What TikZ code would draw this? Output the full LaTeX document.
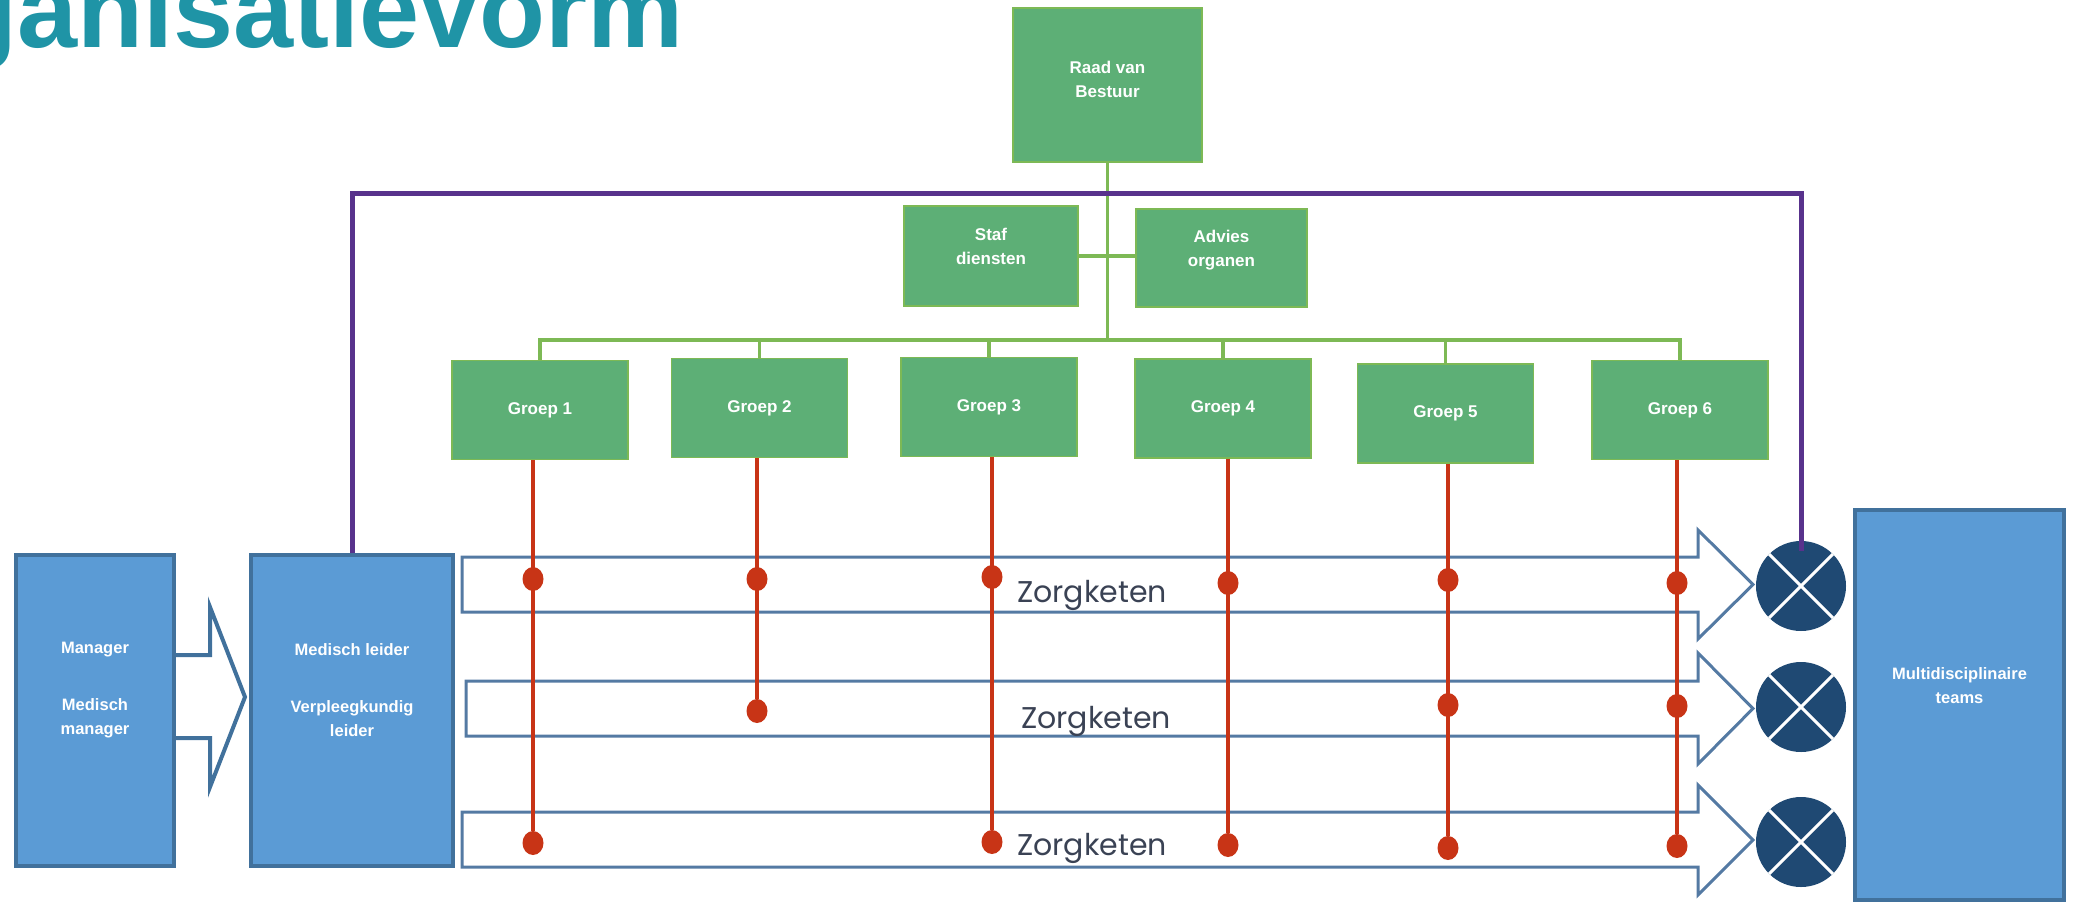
\documentclass[tikz,border=0pt]{standalone}
\usepackage{fontspec}
\setmainfont{Liberation Sans}
\newfontfamily\zorgfont{Poppins}
\usetikzlibrary{shapes.geometric}

\definecolor{titelkl}{RGB}{31,148,166}
\definecolor{groenvul}{RGB}{93,175,118}
\definecolor{groenrand}{RGB}{125,185,85}
\definecolor{blauwvul}{RGB}{91,155,213}
\definecolor{blauwrand}{RGB}{65,113,156}
\definecolor{ketenkl}{RGB}{84,122,163}
\definecolor{roodkl}{RGB}{200,52,22}
\definecolor{navy}{RGB}{31,73,115}
\definecolor{paarskl}{RGB}{88,50,140}
\definecolor{ketentxt}{RGB}{58,66,84}

\begin{document}
\begin{tikzpicture}[x=1pt,y=-1pt,
  groen/.style={draw=groenrand,line width=1.5pt,fill=groenvul,inner sep=0pt},
  groep/.style={groen,minimum width=176pt,minimum height=99pt,text=white,
    font=\bfseries\fontsize{17}{24}\selectfont},
  wittxt/.style={text=white,align=center,font=\bfseries\fontsize{17}{24}\selectfont},
  blauw/.style={draw=blauwrand,line width=4pt,fill=blauwvul,inner sep=0pt},
  lijn/.style={groenrand,line width=3.5pt},
  rood/.style={roodkl,line width=3.5pt},
  stip/.style={ellipse,fill=roodkl,inner sep=0pt,minimum width=21pt,minimum height=24pt},
  keten/.style={draw=ketenkl,line width=3pt},
  ketentekst/.style={text=ketentxt,font=\zorgfont\fontsize{30}{36}\selectfont,inner sep=0pt},
  kruis/.style={circle,fill=navy,minimum size=90pt,inner sep=0pt},
  paars/.style={paarskl,line width=5pt}]
  \useasboundingbox (0,0) rectangle (2075,903);
  \clip (0,0) rectangle (2075,903);

  % titel, links en boven afgesneden
  \node[anchor=base east,inner sep=0pt,text=titelkl,
    font=\bfseries\fontsize{108}{112}\selectfont] (titel) at (684,47) {Organisatievorm};

  % lijnorganisatie
  \node[groen,minimum width=189pt,minimum height=154pt,
    label={[wittxt,yshift=6pt]center:Raad van\\Bestuur}] (raad) at (1107.5,85) {};
  \node[groen,minimum width=174pt,minimum height=100pt,
    label={[wittxt,yshift=10pt]center:Staf\\diensten}] (staf) at (991,256) {};
  \node[groen,minimum width=171pt,minimum height=98pt,
    label={[wittxt,yshift=8pt]center:Advies\\organen}] (advies) at (1221.5,258) {};

  \node[groep] (g1) at (540,410) {Groep 1};
  \node[groep] (g2) at (759.5,408) {Groep 2};
  \node[groep] (g3) at (989,407) {Groep 3};
  \node[groep] (g4) at (1223,408.5) {Groep 4};
  \node[groep] (g5) at (1445.5,413.5) {Groep 5};
  \node[groep] (g6) at (1680,410) {Groep 6};

  \coordinate (bus) at (0,340);
  \coordinate (boven) at (0,193);
  \draw[lijn] (raad.south) -- (raad.south |- bus);
  \draw[lijn] (staf.east) -- (staf.east -| advies.west);
  \draw[lijn] (g1.north) |- (g6.north |- bus) -- (g6.north);
  \draw[lijn] (g2.north) -- (g2.north |- bus);
  \draw[lijn] (g3.north) -- (g3.north |- bus);
  \draw[lijn] (g4.north) -- (g4.north |- bus);
  \draw[lijn] (g5.north) -- (g5.north |- bus);

  % zorgketens
  \draw[keten] (462,557) -- (1698,557) -- (1698,530) -- (1753,584.5) -- (1698,639) -- (1698,612) -- (462,612) -- cycle;
  \draw[keten] (466,681) -- (1698,681) -- (1698,653) -- (1753,708.5) -- (1698,764) -- (1698,736) -- (466,736) -- cycle;
  \draw[keten] (462,812) -- (1698,812) -- (1698,785) -- (1753,840) -- (1698,895) -- (1698,867) -- (462,867) -- cycle;
  \node[ketentekst,anchor=base west] (z1) at (1017,602) {Zorgketen};
  \node[ketentekst,anchor=base west] (z2) at (1021,728) {Zorgketen};
  \node[ketentekst,anchor=base west] (z3) at (1017,855) {Zorgketen};

  % groepen op de ketens
  \node[stip] (d11) at (533,579) {};
  \node[stip] (d13) at (533,843) {};
  \node[stip] (d21) at (757,579) {};
  \node[stip] (d22) at (757,711) {};
  \node[stip] (d31) at (992,577) {};
  \node[stip] (d33) at (992,842) {};
  \node[stip] (d41) at (1228,583) {};
  \node[stip] (d43) at (1228,845) {};
  \node[stip] (d51) at (1448,580) {};
  \node[stip] (d52) at (1448,705) {};
  \node[stip] (d53) at (1448,848) {};
  \node[stip] (d61) at (1677,583) {};
  \node[stip] (d62) at (1677,706) {};
  \node[stip] (d63) at (1677,846) {};
  \draw[rood] (d13 |- g1.south) -- (d13);
  \draw[rood] (d22 |- g2.south) -- (d22);
  \draw[rood] (d33 |- g3.south) -- (d33);
  \draw[rood] (d43 |- g4.south) -- (d43);
  \draw[rood] (d53 |- g5.south) -- (d53);
  \draw[rood] (d63 |- g6.south) -- (d63);

  % leiding links
  \node[blauw,minimum width=158pt,minimum height=311pt,
    label={[wittxt,yshift=20pt,font=\bfseries\fontsize{16.5}{24}\selectfont]center:Manager\\[33pt]Medisch\\manager}] (mgr) at (95,710.5) {};
  \node[blauw,minimum width=202pt,minimum height=311pt,
    label={[wittxt,yshift=20pt,font=\bfseries\fontsize{16.5}{24}\selectfont]center:Medisch leider\\[33pt]Verpleegkundig\\leider}] (leider) at (352,710.5) {};
  \draw[blauwrand,line width=4pt] ([yshift=55.5pt]mgr.east) -- ++(34,0) -- ++(0,-48) -- ++(35,90) -- ++(-35,90) -- ++(0,-49) -- ++(-34,0);

  % knooppunten en teams
  \node[kruis] (k1) at (1801,586) {};
  \node[kruis] (k2) at (1801,707) {};
  \node[kruis] (k3) at (1801,842) {};
  \draw[white,line width=3pt] (k1.north west) -- (k1.south east) (k1.north east) -- (k1.south west);
  \draw[white,line width=3pt] (k2.north west) -- (k2.south east) (k2.north east) -- (k2.south west);
  \draw[white,line width=3pt] (k3.north west) -- (k3.south east) (k3.north east) -- (k3.south west);
  \draw[paars] (leider.north) |- (boven -| k1) -- ([yshift=-10pt]k1.north);

  \node[blauw,minimum width=209pt,minimum height=390pt,
    label={[wittxt,yshift=19pt,font=\bfseries\fontsize{16.5}{24}\selectfont]center:Multidisciplinaire\\teams}] (teams) at (1959.5,705) {};
\end{tikzpicture}
\end{document}
